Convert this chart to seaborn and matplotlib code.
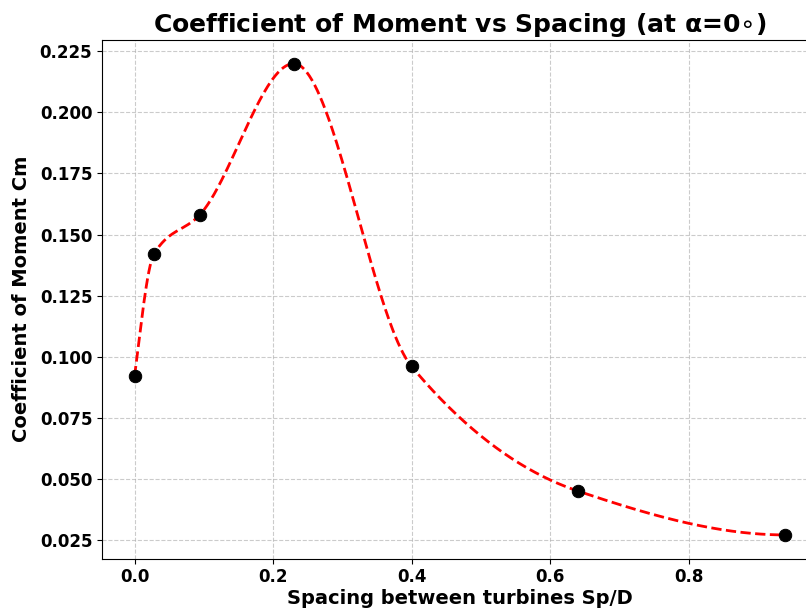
import numpy as np
import pandas as pd
import matplotlib
matplotlib.use("Agg")
import matplotlib.pyplot as plt
import seaborn as sns

# Data
spacing = [0.0, 0.028, 0.094, 0.23, 0.40, 0.64, 0.94]
cm_values = [0.092, 0.142, 0.158, 0.220, 0.096, 0.045, 0.027]
y_ticks = [0.025, 0.050, 0.075, 0.100, 0.125, 0.150, 0.175, 0.200, 0.225]
x_ticks = [0.0, 0.2, 0.4, 0.6, 0.8]


def pchip(x, y, xn):
    x = np.asarray(x, float)
    y = np.asarray(y, float)
    h = np.diff(x)
    d = np.diff(y) / h
    n = len(x)
    m = np.zeros(n)
    for k in range(1, n - 1):
        if d[k - 1] * d[k] <= 0:
            m[k] = 0.0
        else:
            w1 = 2 * h[k] + h[k - 1]
            w2 = h[k] + 2 * h[k - 1]
            m[k] = (w1 + w2) / (w1 / d[k - 1] + w2 / d[k])

    def edge(h0, h1, d0, d1):
        s = ((2 * h0 + h1) * d0 - h0 * d1) / (h0 + h1)
        if np.sign(s) != np.sign(d0):
            s = 0.0
        elif np.sign(d0) != np.sign(d1) and abs(s) > abs(3 * d0):
            s = 3 * d0
        return s

    m[0] = edge(h[0], h[1], d[0], d[1])
    m[-1] = edge(h[-1], h[-2], d[-1], d[-2])
    idx = np.clip(np.searchsorted(x, xn) - 1, 0, n - 2)
    t = (xn - x[idx]) / h[idx]
    h00 = 2 * t**3 - 3 * t**2 + 1
    h10 = t**3 - 2 * t**2 + t
    h01 = -2 * t**3 + 3 * t**2
    h11 = t**3 - t**2
    return (h00 * y[idx] + h10 * h[idx] * m[idx] + h01 * y[idx + 1]
            + h11 * h[idx] * m[idx + 1])


sns.set_style("ticks")
plt.rcParams["font.family"] = ["DejaVu Sans"]
plt.rcParams["text.color"] = "black"
plt.rcParams["axes.labelcolor"] = "black"
plt.rcParams["xtick.color"] = "black"
plt.rcParams["ytick.color"] = "black"

fig = plt.figure(figsize=(8.06, 6.09), dpi=100)
ax = fig.add_axes([102 / 806, 1 - 558.5 / 609, (818 - 102) / 806, (558.5 - 40) / 609])

xs = np.linspace(min(spacing), max(spacing), 500)
curve = pd.DataFrame({"x": xs, "y": pchip(spacing, cm_values, xs)})
pts = pd.DataFrame({"x": spacing, "y": cm_values})

sns.lineplot(data=curve, x="x", y="y", ax=ax, color="red", linestyle="--",
             linewidth=2, zorder=2)
sns.scatterplot(data=pts, x="x", y="y", ax=ax, color="black", s=80,
                edgecolor="black", zorder=3)

ax.margins(x=0.05, y=0.05)
ax.set_xticks(x_ticks)
ax.set_yticks(y_ticks)
ax.grid(True, linestyle="--", color="#b0b0b0", alpha=0.65, linewidth=0.8)
for s in ax.spines.values():
    s.set_color("black")
    s.set_linewidth(0.8)
ax.tick_params(axis="both", labelsize=12, colors="black", width=0.8, length=3.5)
for lbl in ax.get_xticklabels() + ax.get_yticklabels():
    lbl.set_fontweight("bold")
ax.set_xlabel("Spacing between turbines Sp/D", fontsize=14, fontweight="bold",
              color="black", labelpad=2)
ax.set_ylabel("Coefficient of Moment Cm", fontsize=14, fontweight="bold",
              color="black", labelpad=6)
ax.set_title(r"Coefficient of Moment vs Spacing (at α=0$\circ$)", fontsize=18,
             fontweight="bold", color="black", pad=6)

fig.savefig("out.png", dpi=100)
